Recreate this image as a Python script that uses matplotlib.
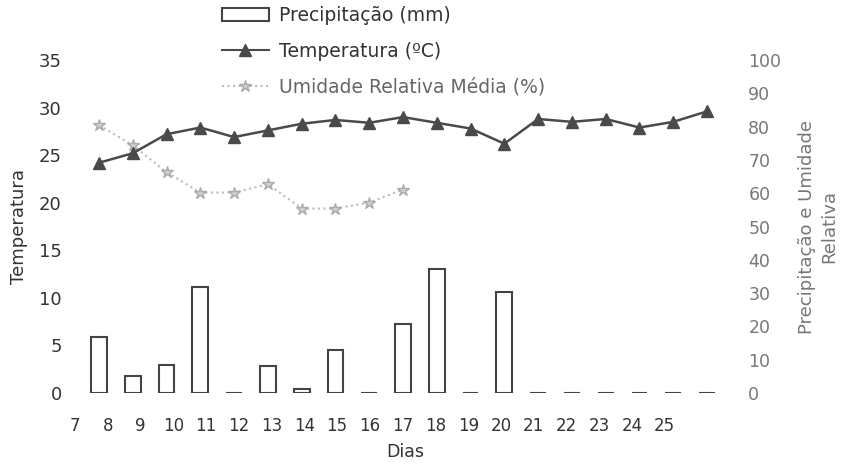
import numpy as np
import matplotlib
matplotlib.use("Agg")
from matplotlib import pyplot as plt
from matplotlib.patches import Patch
from matplotlib.lines import Line2D

plt.rcParams['font.family'] = ['DejaVu Sans']

# dados
dias = [7, 8, 9, 10, 11, 12, 13, 14, 15, 16, 17, 18, 19, 20, 21, 22, 23, 24, 25]
precipitacao = [16.8, 5.1, 8.4, 31.8, 0, 8.1, 1.2, 12.9, 0, 20.7, 37.2, 0, 30.3, 0, 0, 0, 0, 0, 0]
temperatura = [24.2, 25.2, 27.2, 27.9, 26.9, 27.6, 28.3, 28.7, 28.4, 29.0,
               28.4, 27.8, 26.2, 28.8, 28.5, 28.8, 27.9, 28.5, 29.6]
dias_umid = [7, 8, 9, 10, 11, 12, 13, 14, 15, 16]
umidade = [80.4, 74.4, 66.3, 60.2, 60.2, 62.7, 55.4, 55.4, 57.2, 61.1]

x = np.arange(len(dias))
xu = np.array([dias.index(d) for d in dias_umid])

fig = plt.figure(figsize=(8.53, 4.68), dpi=100)
ax = fig.add_axes([70 / 853, 1 - 393 / 468, (740 - 70) / 853, (393 - 60) / 468])
ax2 = ax.twinx()

# barras de precipitação e umidade no eixo da direita
ax2.bar(x, precipitacao, width=0.47, color='white', edgecolor='#444444', linewidth=1.5)
ax2.plot(xu, umidade, color='#bbbbbb', linestyle=':', linewidth=1.5,
         marker='*', markersize=9, markerfacecolor='#d0d0d0', markeredgecolor='#aaaaaa')
ax2.set_ylim(0, 100)
ax2.set_yticks(range(0, 101, 10))

# temperatura no eixo da esquerda, por cima
ax.set_zorder(ax2.get_zorder() + 1)
ax.patch.set_visible(False)
ax.plot(x, temperatura, color='#4a4a4a', linewidth=1.8, marker='^', markersize=9)
ax.set_ylim(0, 35)
ax.set_yticks(range(0, 36, 5))
ax.set_xlim((70 - 99) / 33.8, 18 + (740 - 707) / 33.8)

# rótulos dos dias (um pouco deslocados, como no original)
ax.set_xticks(np.arange(len(dias)) * 0.97 - 0.71)
ax.set_xticklabels([str(d) for d in dias], fontsize=12, color='#333333')

for a in (ax, ax2):
    for s in a.spines.values():
        s.set_visible(False)
ax.tick_params(axis='both', length=0)
ax.tick_params(axis='y', pad=6, labelsize=13, labelcolor='#333333')
ax.tick_params(axis='x', pad=17)
ax2.tick_params(axis='y', length=0, pad=6, labelsize=12.5, labelcolor='#777777')

ax.set_xlabel('Dias', fontsize=12.5, color='#333333', labelpad=6)
ax.set_ylabel('Temperatura', fontsize=13, color='#333333', labelpad=8)
ax2.set_ylabel('Precipitação e Umidade\nRelativa', fontsize=13, color='#777777',
               labelpad=12, linespacing=1.3)

handles = [
    Patch(facecolor='white', edgecolor='#444444', linewidth=1.5),
    Line2D([], [], color='#4a4a4a', linewidth=1.5, marker='^', markersize=8),
    Line2D([], [], color='#bbbbbb', linestyle=':', linewidth=1.5, marker='*',
           markersize=9, markerfacecolor='#d0d0d0', markeredgecolor='#aaaaaa'),
]
labels = ['Precipitação (mm)', 'Temperatura (ºC)', 'Umidade Relativa Média (%)']
leg = fig.legend(handles, labels, loc='upper left', bbox_to_anchor=(222 / 853, 1 - 6 / 468),
                 frameon=False, fontsize=13.5, handlelength=2.5, handleheight=0.7,
                 handletextpad=0.55, labelspacing=0.9, borderpad=0, borderaxespad=0)
for t, c in zip(leg.get_texts(), ['#333333', '#333333', '#666666']):
    t.set_color(c)

fig.savefig('out.png', dpi=100)
